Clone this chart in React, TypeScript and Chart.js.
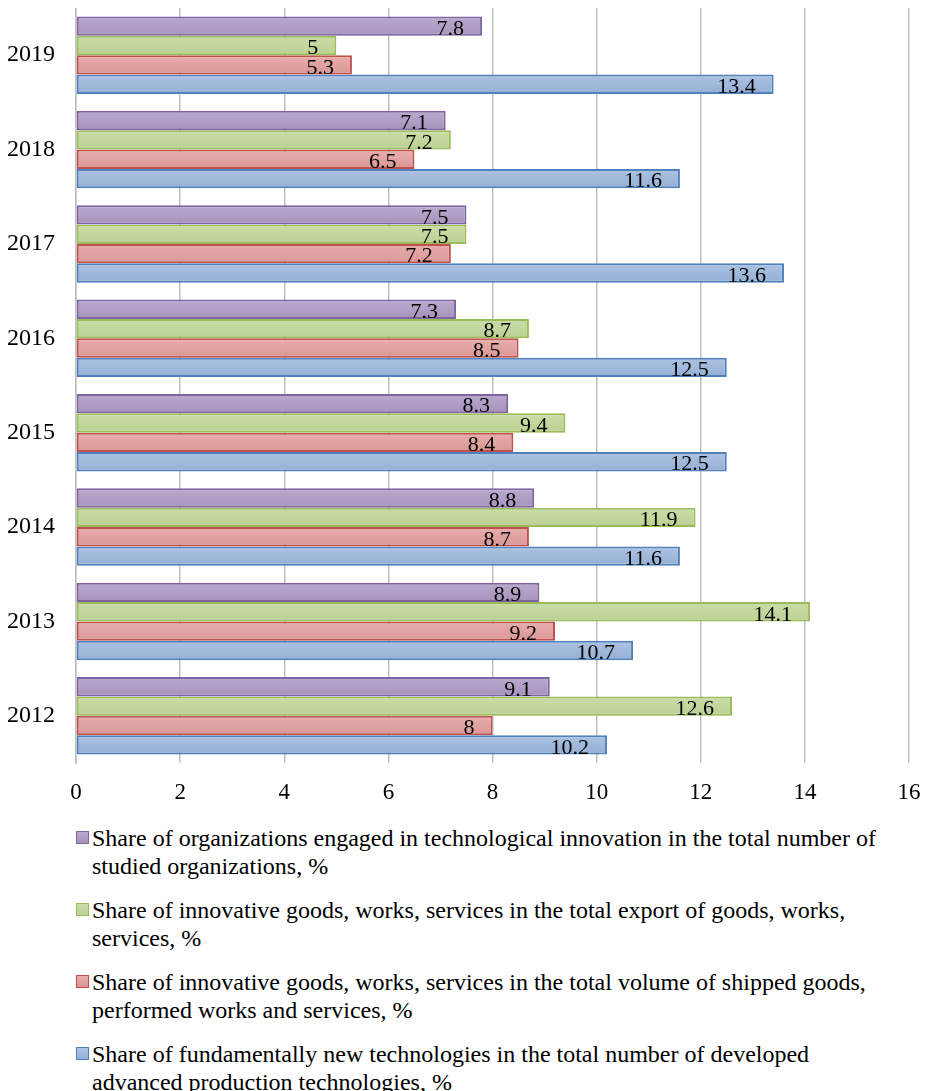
import React, { useEffect, useRef } from "react";
import { Chart, registerables } from "chart.js";

Chart.register(...registerables);

const years = ["2019", "2018", "2017", "2016", "2015", "2014", "2013", "2012"];
const orgsEngaged = [7.8, 7.1, 7.5, 7.3, 8.3, 8.8, 8.9, 9.1];
const exportShare = [5, 7.2, 7.5, 8.7, 9.4, 11.9, 14.1, 12.6];
const shippedShare = [5.3, 6.5, 7.2, 8.5, 8.4, 8.7, 9.2, 8];
const newTech = [13.4, 11.6, 13.6, 12.5, 12.5, 11.6, 10.7, 10.2];
const xTicks = [0, 2, 4, 6, 8, 10, 12, 14, 16];

const seriesNames = [
  "Share of organizations engaged in technological innovation in the total number of studied organizations, %",
  "Share of innovative goods, works, services in the total export of goods, works, services, %",
  "Share of innovative goods, works, services in the total volume of shipped goods, performed works and services, %",
  "Share of fundamentally new technologies in the total number of developed advanced production technologies, %",
];
const fillsTop = ["#bbabcf", "#cadda8", "#e8afae", "#adc3e1"];
const fillsBottom = ["#a592bb", "#bbd093", "#d99694", "#94afd5"];
const borders = ["#8064a2", "#9bbb59", "#c0504d", "#4f81bd"];
const seriesValues = [orgsEngaged, exportShare, shippedShare, newTech];

const FONT = '"Liberation Serif", "Times New Roman", serif';

const gradientPlugin = {
  id: "barGradient",
  beforeDatasetsDraw(chart: any) {
    const c = chart.ctx;
    chart.data.datasets.forEach((_ds: any, di: number) => {
      const meta = chart.getDatasetMeta(di);
      meta.data.forEach((el: any) => {
        const h = el.height || 0;
        const top = el.y - h / 2;
        const g = c.createLinearGradient(0, top, 0, top + h);
        g.addColorStop(0, fillsTop[di]);
        g.addColorStop(1, fillsBottom[di]);
        try {
          el.options.backgroundColor = g;
        } catch (e) {
          /* ignore */
        }
      });
    });
  },
};

const labelPlugin = {
  id: "barLabels",
  afterDatasetsDraw(chart: any) {
    const c = chart.ctx;
    c.save();
    c.font = `22px ${FONT}`;
    c.fillStyle = "#000";
    c.textAlign = "right";
    c.textBaseline = "middle";
    chart.data.datasets.forEach((ds: any, di: number) => {
      const meta = chart.getDatasetMeta(di);
      meta.data.forEach((el: any, i: number) => {
        c.fillText(String(ds.data[i]), el.x - 18, el.y + 3);
      });
    });
    c.restore();
  },
};

const zeroPad = (scale: any) => {
  scale.paddingTop = 0;
  scale.paddingBottom = 0;
  scale.paddingLeft = 0;
  scale.paddingRight = 0;
};

export default function App() {
  const ref = useRef<HTMLCanvasElement>(null);
  useEffect(() => {
    document.body.style.marginRight = "0px";
    if (!ref.current) return;
    const chart = new Chart(ref.current, {
      type: "bar",
      data: {
        labels: years,
        datasets: seriesValues.map((vals, i) => ({
          label: seriesNames[i],
          data: vals,
          backgroundColor: () => fillsBottom[i],
          borderColor: borders[i],
          borderWidth: 2,
          borderSkipped: false,
          categoryPercentage: 0.82,
          barPercentage: 1,
        })),
      },
      options: {
        indexAxis: "y",
        animation: false,
        responsive: false,
        maintainAspectRatio: false,
        layout: { padding: { top: 0, right: 16, bottom: 0, left: 0 } },
        plugins: {
          legend: { display: false },
          tooltip: { enabled: false },
        },
        scales: {
          x: {
            min: 0,
            max: 16,
            afterBuildTicks: (scale: any) => {
              scale.ticks = xTicks.map((v) => ({ value: v }));
            },
            grid: { color: "#bfbfbf", lineWidth: 1.5, drawTicks: false },
            border: { display: false },
            ticks: { font: { family: FONT, size: 23 }, color: "#000", padding: 16, maxRotation: 0 },
            afterFit: (scale: any) => {
              scale.height = 45;
              zeroPad(scale);
            },
          },
          y: {
            grid: { display: false, drawTicks: false },
            border: { display: true, color: "#bfbfbf", width: 1.5 },
            ticks: { font: { family: FONT, size: 24 }, color: "#000", padding: 21 },
            afterFit: (scale: any) => {
              scale.width = 68;
              zeroPad(scale);
            },
          },
        },
      },
      plugins: [gradientPlugin, labelPlugin],
    });
    return () => chart.destroy();
  }, []);

  return (
    <div style={{ width: 917, height: 1083, overflow: "hidden", fontFamily: FONT }}>
      <canvas ref={ref} width={917} height={800} style={{ display: "block", width: 917, height: 800 }} />
      <div style={{ marginTop: 16, paddingLeft: 68, width: 820 }}>
        {seriesNames.map((name, i) => (
          <div
            key={i}
            style={{
              display: "flex",
              alignItems: "flex-start",
              fontSize: 24,
              lineHeight: "28px",
              color: "#000",
              marginBottom: i < seriesNames.length - 1 ? 16 : 0,
            }}
          >
            <span
              style={{
                display: "inline-block",
                width: 11,
                height: 11,
                background: `linear-gradient(${fillsTop[i]}, ${fillsBottom[i]})`,
                border: `1.5px solid ${borders[i]}`,
                marginTop: 7,
                marginRight: 3,
                flex: "none",
              }}
            />
            <span>{name}</span>
          </div>
        ))}
      </div>
    </div>
  );
}
